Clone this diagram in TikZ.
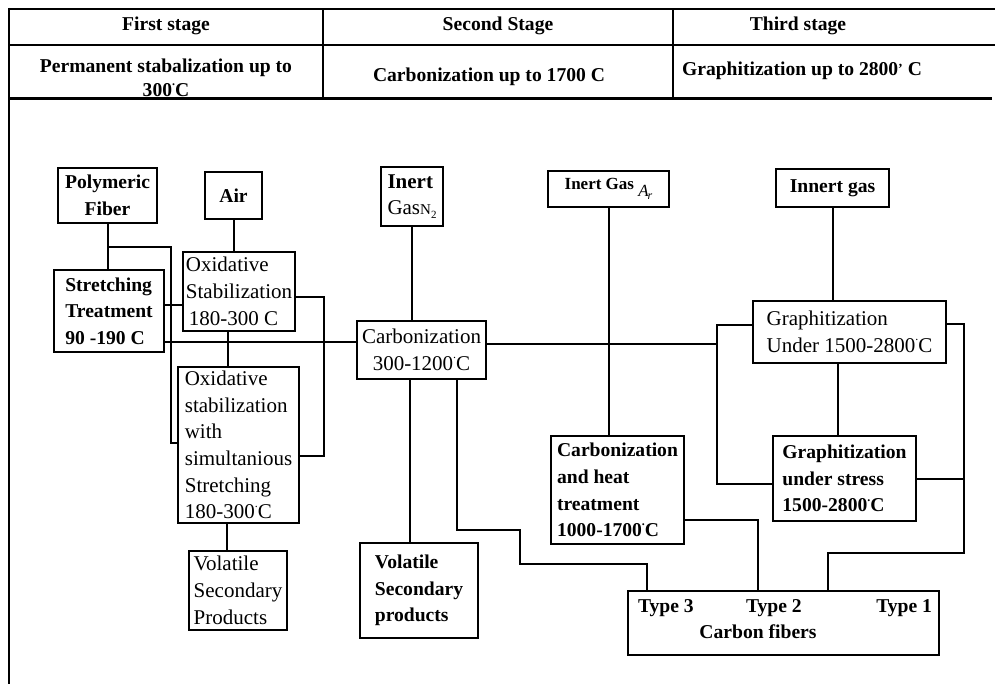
\documentclass[tikz,border=0pt]{standalone}
\usepackage{fontspec}
\setmainfont{Liberation Serif}
\newcommand{\boxbf}{\fontsize{19.6}{26.7}\selectfont\bfseries}
\newcommand{\boxrm}{\fontsize{21}{26.7}\selectfont}
\newcommand{\degdot}{\smash{\raisebox{0.55em}{\fontsize{12}{12}\selectfont.}}}

\begin{document}
\begin{tikzpicture}[x=1pt, y=-1pt, line width=2pt,
    stagebox/.style={draw, inner sep=2pt, align=left, font=\boxbf},
    plainbox/.style={stagebox, font=\boxrm},
    headtxt/.style={inner sep=0pt, font=\boxbf, anchor=base}]
    \useasboundingbox (0,0) rectangle (995,684);
    \draw (9,9) -- (995,9);
    \draw (9,45) -- (995,45);
    \draw[line width=3pt] (9,99) -- (992,99);
    \draw (9,8) -- (9,684);
    \draw (323,9) -- (323,99);
    \draw (673,9) -- (673,99);
    \node[headtxt] (h1) at (166,31) {First stage};
    \node[headtxt] (h2) at (498,31) {Second Stage};
    \node[headtxt] (h3) at (798,31) {Third stage};
    \node[headtxt] (h4) at (166,72.5) {Permanent stabalization up to};
    \node[headtxt] (h4b) at (166,96.5) {300\degdot C};
    \node[headtxt] (h5) at (489,82) {Carbonization up to 1700 C};
    \node[headtxt] (h6) at (802,76) {Graphitization up to 2800\raisebox{0.15em}{\fontsize{14}{14}\selectfont'} C};

    \node[stagebox, align=center, minimum width=99pt, minimum height=55pt] (poly) at (107.5,195.5) {Polymeric\\Fiber};
    \node[stagebox, minimum width=57pt, minimum height=47pt] (air) at (233.5,195.5) {Air};
    \node[stagebox, minimum width=110pt, minimum height=82pt] (stretch) at (109,311) {Stretching\\Treatment\\90 -190 C};
    \node[plainbox, minimum width=112pt, minimum height=79pt] (oxst) at (239,291.5) {Oxidative\\Stabilization\\\hspace{3pt}180-300 C};
    \node[plainbox, minimum width=121pt, minimum height=156pt] (oxss) at (238.5,445) {Oxidative\\stabilization\\with\\simultanious\\Stretching\\180-300\degdot C};
    \node[plainbox, minimum width=98pt, minimum height=79pt] (vol1) at (238,590.5) {Volatile\\Secondary\\Products};
    \node[plainbox, minimum width=62pt, minimum height=59pt] (n2) at (412,196.5) {\textbf{Inert}\\Gas{\fontsize{15}{15}\selectfont N\raisebox{-0.25em}{\fontsize{11}{11}\selectfont 2}}};
    \node[plainbox, align=center, minimum width=129pt, minimum height=58pt] (carb) at (421.5,350) {Carbonization\\300-1200\degdot C};
    \node[stagebox, minimum width=118pt, minimum height=95pt] (vol2) at (419,590.5) {Volatile\\Secondary\\products};
    \node[stagebox, font=\fontsize{17}{22}\selectfont\bfseries, minimum width=121pt, minimum height=36pt] (ar) at (608.5,189) {Inert Gas \raisebox{-0.4em}{\mdseries\itshape A\kern-1pt\raisebox{-0.2em}{\fontsize{12}{12}\selectfont r}}};
    \node[stagebox, minimum width=133pt, minimum height=108pt] (cht) at (617.5,490) {Carbonization\\and heat\\treatment\\1000-1700\degdot C};
    \node[stagebox, minimum width=113pt, minimum height=38pt] (innert) at (832.5,188) {Innert gas};
    \node[plainbox, minimum width=193pt, minimum height=62pt] (graph) at (849.5,332) {Graphitization\\Under 1500-2800\degdot C};
    \node[stagebox, minimum width=143pt, minimum height=85pt] (gus) at (844.5,478.5) {Graphitization\\under stress\\1500-2800\degdot C};
    \node[draw, minimum width=311pt, minimum height=64pt] (cf) at (783.5,623) {};
    \node[headtxt, anchor=base west] (t3) at (637,612) {Type 3};
    \node[headtxt, anchor=base west] (t2) at (745,612) {Type 2};
    \node[headtxt, anchor=base east] (t1) at (933,612) {Type 1};
    \node[headtxt] (cflabel) at (758,638) {Carbon fibers};

    \coordinate (j1) at ([yshift=-23pt]poly.south);
    \coordinate (gx) at ([xshift=-35pt]graph.west);
    \coordinate (gr) at ([xshift=17pt]graph.east);
    \draw (poly.south) -- (poly.south |- stretch.north);
    \draw (j1) -| ([xshift=-6pt,yshift=2pt]oxss.west) -- ([yshift=2pt]oxss.west);
    \draw ([yshift=6pt]stretch.east) -- ([yshift=6pt]stretch.east -| oxst.west);
    \draw ([yshift=-31pt]stretch.east) -- ([yshift=-31pt]stretch.east -| carb.west);
    \draw (air.south) -- (air.south |- oxst.north);
    \draw ([yshift=-5.5pt]oxst.east) -| ([xshift=24pt,yshift=-11pt]oxss.east) -- ([yshift=-11pt]oxss.east);
    \draw ([xshift=-11pt]oxst.south) -- ([xshift=-11pt]oxst.south |- oxss.north);
    \draw ([xshift=-11.5pt]oxss.south) -- ([xshift=-11.5pt]oxss.south |- vol1.north);
    \draw (n2.south) -- (n2.south |- carb.north);
    \draw ([yshift=6pt]carb.east) -- ([yshift=6pt]carb.east -| gx);
    \draw ([yshift=7pt]graph.west) -- ([yshift=7pt]gx) |- ([yshift=-5.5pt]gus.west);
    \draw (ar.south) -- (ar.south |- cht.north);
    \draw ([xshift=-11.5pt]carb.south) -- ([xshift=-11.5pt]carb.south |- vol2.north);
    \draw ([xshift=35.5pt]carb.south) -- ++(0,150) -| ++(63,34) -| ([xshift=-136.5pt]cf.north);
    \draw ([yshift=-30pt]cht.east) -| ([xshift=-25.5pt]cf.north);
    \draw (innert.south) -- (innert.south |- graph.north);
    \draw ([xshift=-12pt]graph.south) -- ([xshift=-12pt]graph.south |- gus.north);
    \draw ([yshift=8pt]graph.east) -- ([yshift=8pt]gr) -- ++(0,229) -| ([xshift=44.5pt]cf.north);
    \draw (gus.east) -- (gus.east -| gr);
\end{tikzpicture}
\end{document}
